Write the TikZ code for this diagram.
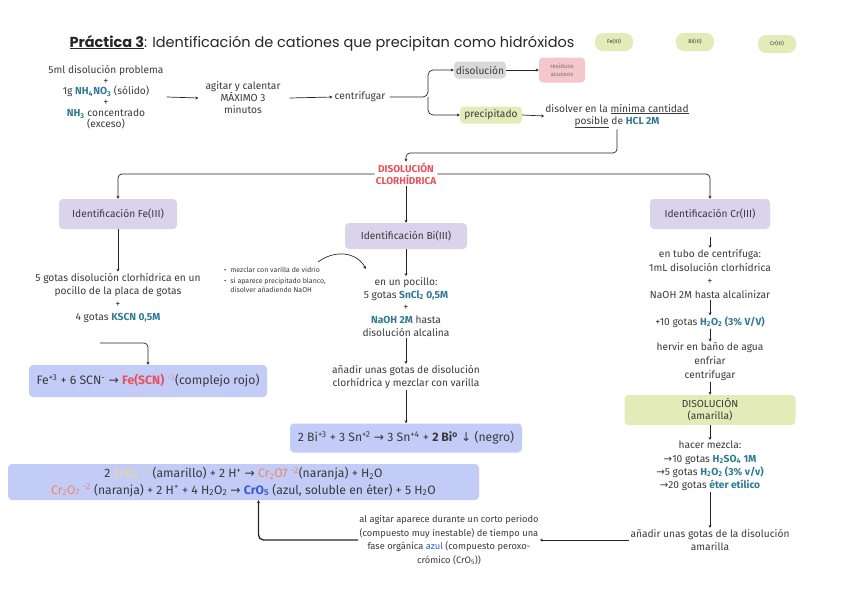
\documentclass[tikz,border=0pt]{standalone}
\usepackage{fontspec}
\setmainfont{Fira Sans}
\newfontfamily\titlefont{Poppins}
\newfontfamily\symf{DejaVu Sans}
\usetikzlibrary{arrows.meta}
\definecolor{purp}{HTML}{D9D3EC}
\definecolor{bluebx}{HTML}{C3CBF7}
\definecolor{greenbx}{HTML}{E3EBB9}
\definecolor{graybx}{HTML}{D9D9D9}
\definecolor{pinkbx}{HTML}{F5C6CA}
\definecolor{tealc}{HTML}{2F7A93}
\definecolor{redt}{HTML}{E8505B}
\definecolor{yel}{HTML}{EEDD88}
\definecolor{ora}{HTML}{EE8860}
\definecolor{bluet}{HTML}{3A5BD9}
\definecolor{txtc}{HTML}{3A3A3A}
\newcommand\chem[1]{\textcolor{tealc}{\bfseries #1}}
\newcommand\dn[1]{\textsubscript{#1}}
\newcommand\up[1]{\textsuperscript{#1}}
\newcommand\rarr{{\symf\char"2192}}
\newcommand\darr{{\symf\char"2193}}
\begin{document}
\begin{tikzpicture}[x=1pt,y=-1pt,
  every node/.style={text=txtc},
  t/.style={font=\fontsize{10.2}{13}\selectfont, align=center, inner sep=1pt},
  arr/.style={draw=black!85, line width=0.7pt, -{Stealth[length=3pt,width=3pt]}},
  bx/.style={rounded corners=4pt, inner sep=2pt, align=center, font=\fontsize{10.2}{12}\selectfont},
  purpbox/.style={bx, fill=purp, minimum width=118, minimum height=30},
  bluebox/.style={bx, fill=bluebx, font=\fontsize{12.2}{16}\selectfont},
  pill/.style={fill=greenbx, rounded corners=8pt, minimum width=38, minimum height=18, font=\fontsize{5.5}{6}\selectfont}]
\useasboundingbox (0,0) rectangle (848,600);

% title
\node[font=\titlefont\fontsize{14.5}{17}\selectfont, text=black!85] (title) at (322,43)
  {\underline{\textbf{Práctica 3}}: Identificación de cationes que precipitan como hidróxidos};
\node[pill] (p1) at (614,42) {Fe(III)};
\node[pill] (p2) at (695,42) {Bi(III)};
\node[pill] (p3) at (777,44) {Cr(III)};

% top row
\node[t, font=\fontsize{10.2}{10.8}\selectfont] (prob) at (106,97)
  {5ml disolución problema\\+\\1g \chem{NH\dn4NO\dn3} (sólido)\\+\\\chem{NH\dn3} concentrado\\(exceso)};
\node[t, font=\fontsize{10.2}{12}\selectfont] (agit) at (243,98) {agitar y calentar\\MÁXIMO 3\\minutos};
\node[t] (centr) at (360,97) {centrifugar};
\draw[arr] ([xshift=2]prob.east) -- ([xshift=-6]agit.west);
\draw[arr] ([xshift=8]agit.east) -- ([xshift=-1]centr.west);
\node[bx, fill=graybx, minimum width=52, minimum height=17, inner sep=1pt] (disol) at (480,70) {disolución};
\node[bx, fill=greenbx, minimum width=62, minimum height=17, inner sep=1pt] (prec) at (491,115) {precipitado};
\node[bx, fill=pinkbx, minimum width=46, minimum height=25, inner sep=1pt, font=\fontsize{6}{7.5}\selectfont, text=black!55] (resid) at (562,70) {residuos\\acuosos};
\coordinate (br) at (428,97);
\draw[arr, rounded corners=5pt] ([xshift=3]centr.east) -- (br) |- (disol.west);
\draw[arr, rounded corners=5pt] (br) |- (prec.west);
\draw[arr] (disol.east) -- (resid.west);
\node[t, font=\fontsize{10.2}{12}\selectfont] (disolver) at (617,116) {disolver en la \underline{mínima cantidad}\\\underline{posible} de \chem{HCL 2M}};
\draw[arr] (prec.east) -- (disolver.west);

% disolucion clorhidrica
\node[t, font=\fontsize{10}{12.5}\selectfont\bfseries, text=redt] (dc) at (406,174) {DISOLUCIÓN\\CLORHÍDRICA};
\coordinate (j1) at (406,153);
\draw[arr, rounded corners=4pt] (disolver.south) |- (j1) -- (dc.north);

\node[purpbox] (fe) at (118,214) {Identificación Fe(III)};
\node[purpbox, minimum width=122, minimum height=26] (bi) at (406,236) {Identificación Bi(III)};
\node[purpbox, minimum width=120] (cr) at (710,214) {Identificación Cr(III)};
\draw[arr, rounded corners=4pt] (dc.west) -| (fe.north);
\draw[arr, rounded corners=4pt] (dc.east) -| (cr.north);
\draw[arr] (dc.south) -- (bi.north);

% Fe column
\node[t, font=\fontsize{10.2}{13.3}\selectfont] (fet) at (118,298)
  {5 gotas disolución clorhídrica en un\\pocillo de la placa de gotas\\+\\4 gotas \chem{KSCN 0,5M}};
\draw[arr] (fe.south) -- (fet.north);
\node[bluebox, minimum width=238, minimum height=32] (feb) at (148,381)
  {Fe\up{+3} + 6 SCN\up{-} \rarr{} \textcolor{redt}{\bfseries Fe(SCN)} \up{\textcolor{redt!60}{-3}}(complejo rojo)};
\coordinate (fej) at (100,343);
\draw[arr, rounded corners=4pt] (fej) -| (feb.north);

% Bi column
\node[anchor=west, inner sep=0pt, font=\fontsize{7}{9.5}\selectfont] (notes) at (224,281)
  {\begin{tabular}{@{}l@{\hspace{4pt}}l@{}}\textbullet & mezclar con varilla de vidrio\\[1pt]
   \textbullet & si aparece precipitado blanco,\\ & disolver añadiendo NaOH\end{tabular}};
\coordinate (ca) at (318,262);
\coordinate (cb) at (366,269);
\draw[arr] (ca) .. controls (334,250) and (356,251) .. (cb);
\node[t, font=\fontsize{10.2}{12.8}\selectfont] (bit) at (406,307)
  {en un pocillo:\\5 gotas \chem{SnCl\dn2 0,5M}\\+\\\chem{NaOH 2M} hasta\\disolución alcalina};
\draw[arr] (bi.south) -- (bit.north);
\node[t, font=\fontsize{10.2}{13.5}\selectfont] (bia) at (406,377) {añadir unas gotas de disolución\\clorhídrica y mezclar con varilla};
\draw[arr] (bit.south) -- (bia.north);
\node[bluebox, minimum width=232, minimum height=29] (bib) at (406,438)
  {2 Bi\up{+3} + 3 Sn\up{+2} \rarr{} 3 Sn\up{+4} + \textbf{2 Bi\up{o}} \darr{} (negro)};
\draw[arr] (bia.south) -- (bib.north);

% Cr column
\node[t, font=\fontsize{10.2}{13.8}\selectfont] (c1) at (710,274)
  {en tubo de centrífuga:\\1mL disolución clorhídrica\\+\\NaOH 2M hasta alcalinizar};
\draw[arr, shorten <=8pt] (cr.south) -- (c1.north);
\node[t] (c2) at (710,322) {+10 gotas \chem{H\dn2O\dn2 (3\% V/V)}};
\draw[arr] (c1.south) -- (c2.north);
\node[t, font=\fontsize{10.2}{14}\selectfont] (c3) at (710,362) {hervir en baño de agua\\enfriar\\centrifugar};
\draw[arr] (c2.south) -- (c3.north);
\node[bx, fill=greenbx, minimum width=171, minimum height=30, font=\fontsize{10.2}{12}\selectfont] (cdis) at (710,410) {DISOLUCIÓN\\(amarilla)};
\draw[arr] (c3.south) -- (cdis.north);
\node[t, font=\fontsize{10.2}{13.3}\selectfont] (c4) at (710,466)
  {hacer mezcla:\\\rarr{}10 gotas \chem{H\dn2SO\dn4 1M}\\\rarr{}5 gotas \chem{H\dn2O\dn2 (3\% v/v)}\\\rarr{}20 gotas \chem{éter etílico}};
\draw[arr] (cdis.south) -- (c4.north);
\node[t, font=\fontsize{10.2}{13.5}\selectfont] (c5) at (710,540) {añadir unas gotas de la disolución\\amarilla};
\draw[arr] (c4.south) -- (c5.north);

\node[t, font=\fontsize{9.3}{13.7}\selectfont] (agt) at (449,540)
  {al agitar aparece durante un corto periodo\\(compuesto muy inestable) de tiempo una\\fase orgánica \textcolor{bluet}{azul} (compuesto peroxo-\\crómico (CrO\dn5))};
\draw[arr] (c5.west) -- (agt.east);

\node[bluebox, minimum width=471, minimum height=36, font=\fontsize{12.2}{16.5}\selectfont] (crb) at (243.5,482)
  {2 \textcolor{yel}{CrO\dn4 \up{-2}} (amarillo) + 2 H\up{+} \rarr{} \textcolor{ora}{Cr\dn2O7 \up{-2}}(naranja) + H\dn2O\\
   \textcolor{ora}{Cr\dn2O\dn7 \up{-2}} (naranja) + 2 H\up{+} + 4 H\dn2O\dn2 \rarr{} \textcolor{bluet}{\bfseries CrO\dn5} (azul, soluble en éter) + 5 H\dn2O};
\draw[arr, line width=1.3pt, rounded corners=5pt] (agt.west) -| ([xshift=15]crb.south);
\end{tikzpicture}
\end{document}
